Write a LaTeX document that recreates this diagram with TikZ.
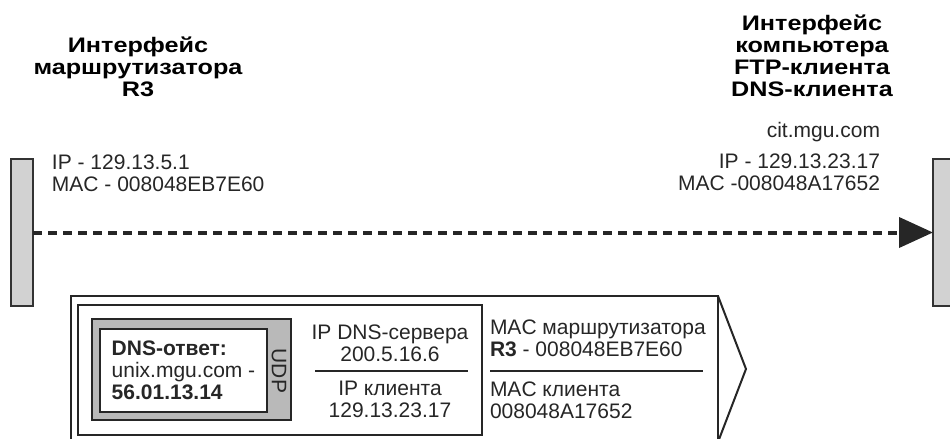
\documentclass[tikz,border=0pt]{standalone}
\usepackage{fontspec}
\setmainfont{Liberation Sans}
\newfontfamily\hdrfont[FakeStretch=1.2]{Liberation Sans}
\usepackage{tikz}
\usetikzlibrary{positioning, arrows.meta}

\begin{document}
\begin{tikzpicture}[
    x=0.5pt, y=-0.5pt,
    every node/.style={font=\fontsize{10.5}{11}\selectfont, inner sep=0pt, outer sep=0pt, text=black!85},
    header/.style={font=\hdrfont\fontsize{10.5}{11}\selectfont\bfseries, align=center, text=black},
    bar/.style={draw=black!80, line width=0.6pt, fill=gray!35, minimum width=11pt, minimum height=73.5pt},
    frame/.style={draw=black!85, line width=0.75pt},
    dataflow/.style={draw=black!85, line width=2pt, dash pattern=on 4.5pt off 3pt, -{Triangle[length=17pt, width=15pt]}}
]
\useasboundingbox (0,0) rectangle (950,439);
\clip (0,0) rectangle (950,439);

% headers and addresses
\node[header] (hdrrouter) at (138,67) {Интерфейс\\маршрутизатора\\R3};
\node[header] (hdrclient) at (812,56) {Интерфейс\\компьютера\\FTP-клиента\\DNS-клиента};
\node[anchor=west, align=left] (addrrouter) at (52,173) {IP - 129.13.5.1\\MAC - 008048EB7E60};
\node[anchor=east] (hostname) at (880,132) {cit.mgu.com};
\node[anchor=east, align=right] (addrclient) at (880,172.5) {IP - 129.13.23.17\\MAC -008048A17652};

% interfaces
\node[bar] (lbar) at (22,232.5) {};
\node[bar] (rbar) at (944,232.5) {};
\draw[dataflow] (lbar.east) -- (rbar.west);

% frame
\draw[frame, line width=1pt] (71,296) -- (718,296) -- (718,442) -- (71,442) -- cycle;
\draw[frame, line width=1pt] (718,296) -- (746,369) -- (718,442);
\node[frame, minimum width=202pt, minimum height=65pt] (packet) at (280,370) {};
\node[frame, fill=gray!55, minimum width=99.5pt, minimum height=50.5pt] (udpbox) at (191.5,369.5) {};
\node[frame, fill=white, minimum width=83.5pt, minimum height=41.5pt] (dnsbox) at (183.5,370.5) {};
\node[rotate=-90] (udp) at (279,371) {UDP};
\node[align=left] (dnsdata) at (dnsbox.center) {\textbf{DNS-ответ:}\\unix.mgu.com -\\\textbf{56.01.13.14}};

% IP header
\node[align=center] (ipsrv) at (390,343.5) {IP DNS-сервера\\200.5.16.6};
\node[align=center] (ipdst) at (390,399.5) {IP клиента\\129.13.23.17};
\draw[frame] (315,371) -- (468,371);

% MAC header
\node[anchor=west, align=left] (macsrc) at (490,338.5) {MAC маршрутизатора\\\textbf{R3} - 008048EB7E60};
\node[anchor=west, align=left] (macdst) at (490,400.5) {MAC клиента\\008048A17652};
\draw[frame] (490,371) -- (703,371);
\end{tikzpicture}
\end{document}
